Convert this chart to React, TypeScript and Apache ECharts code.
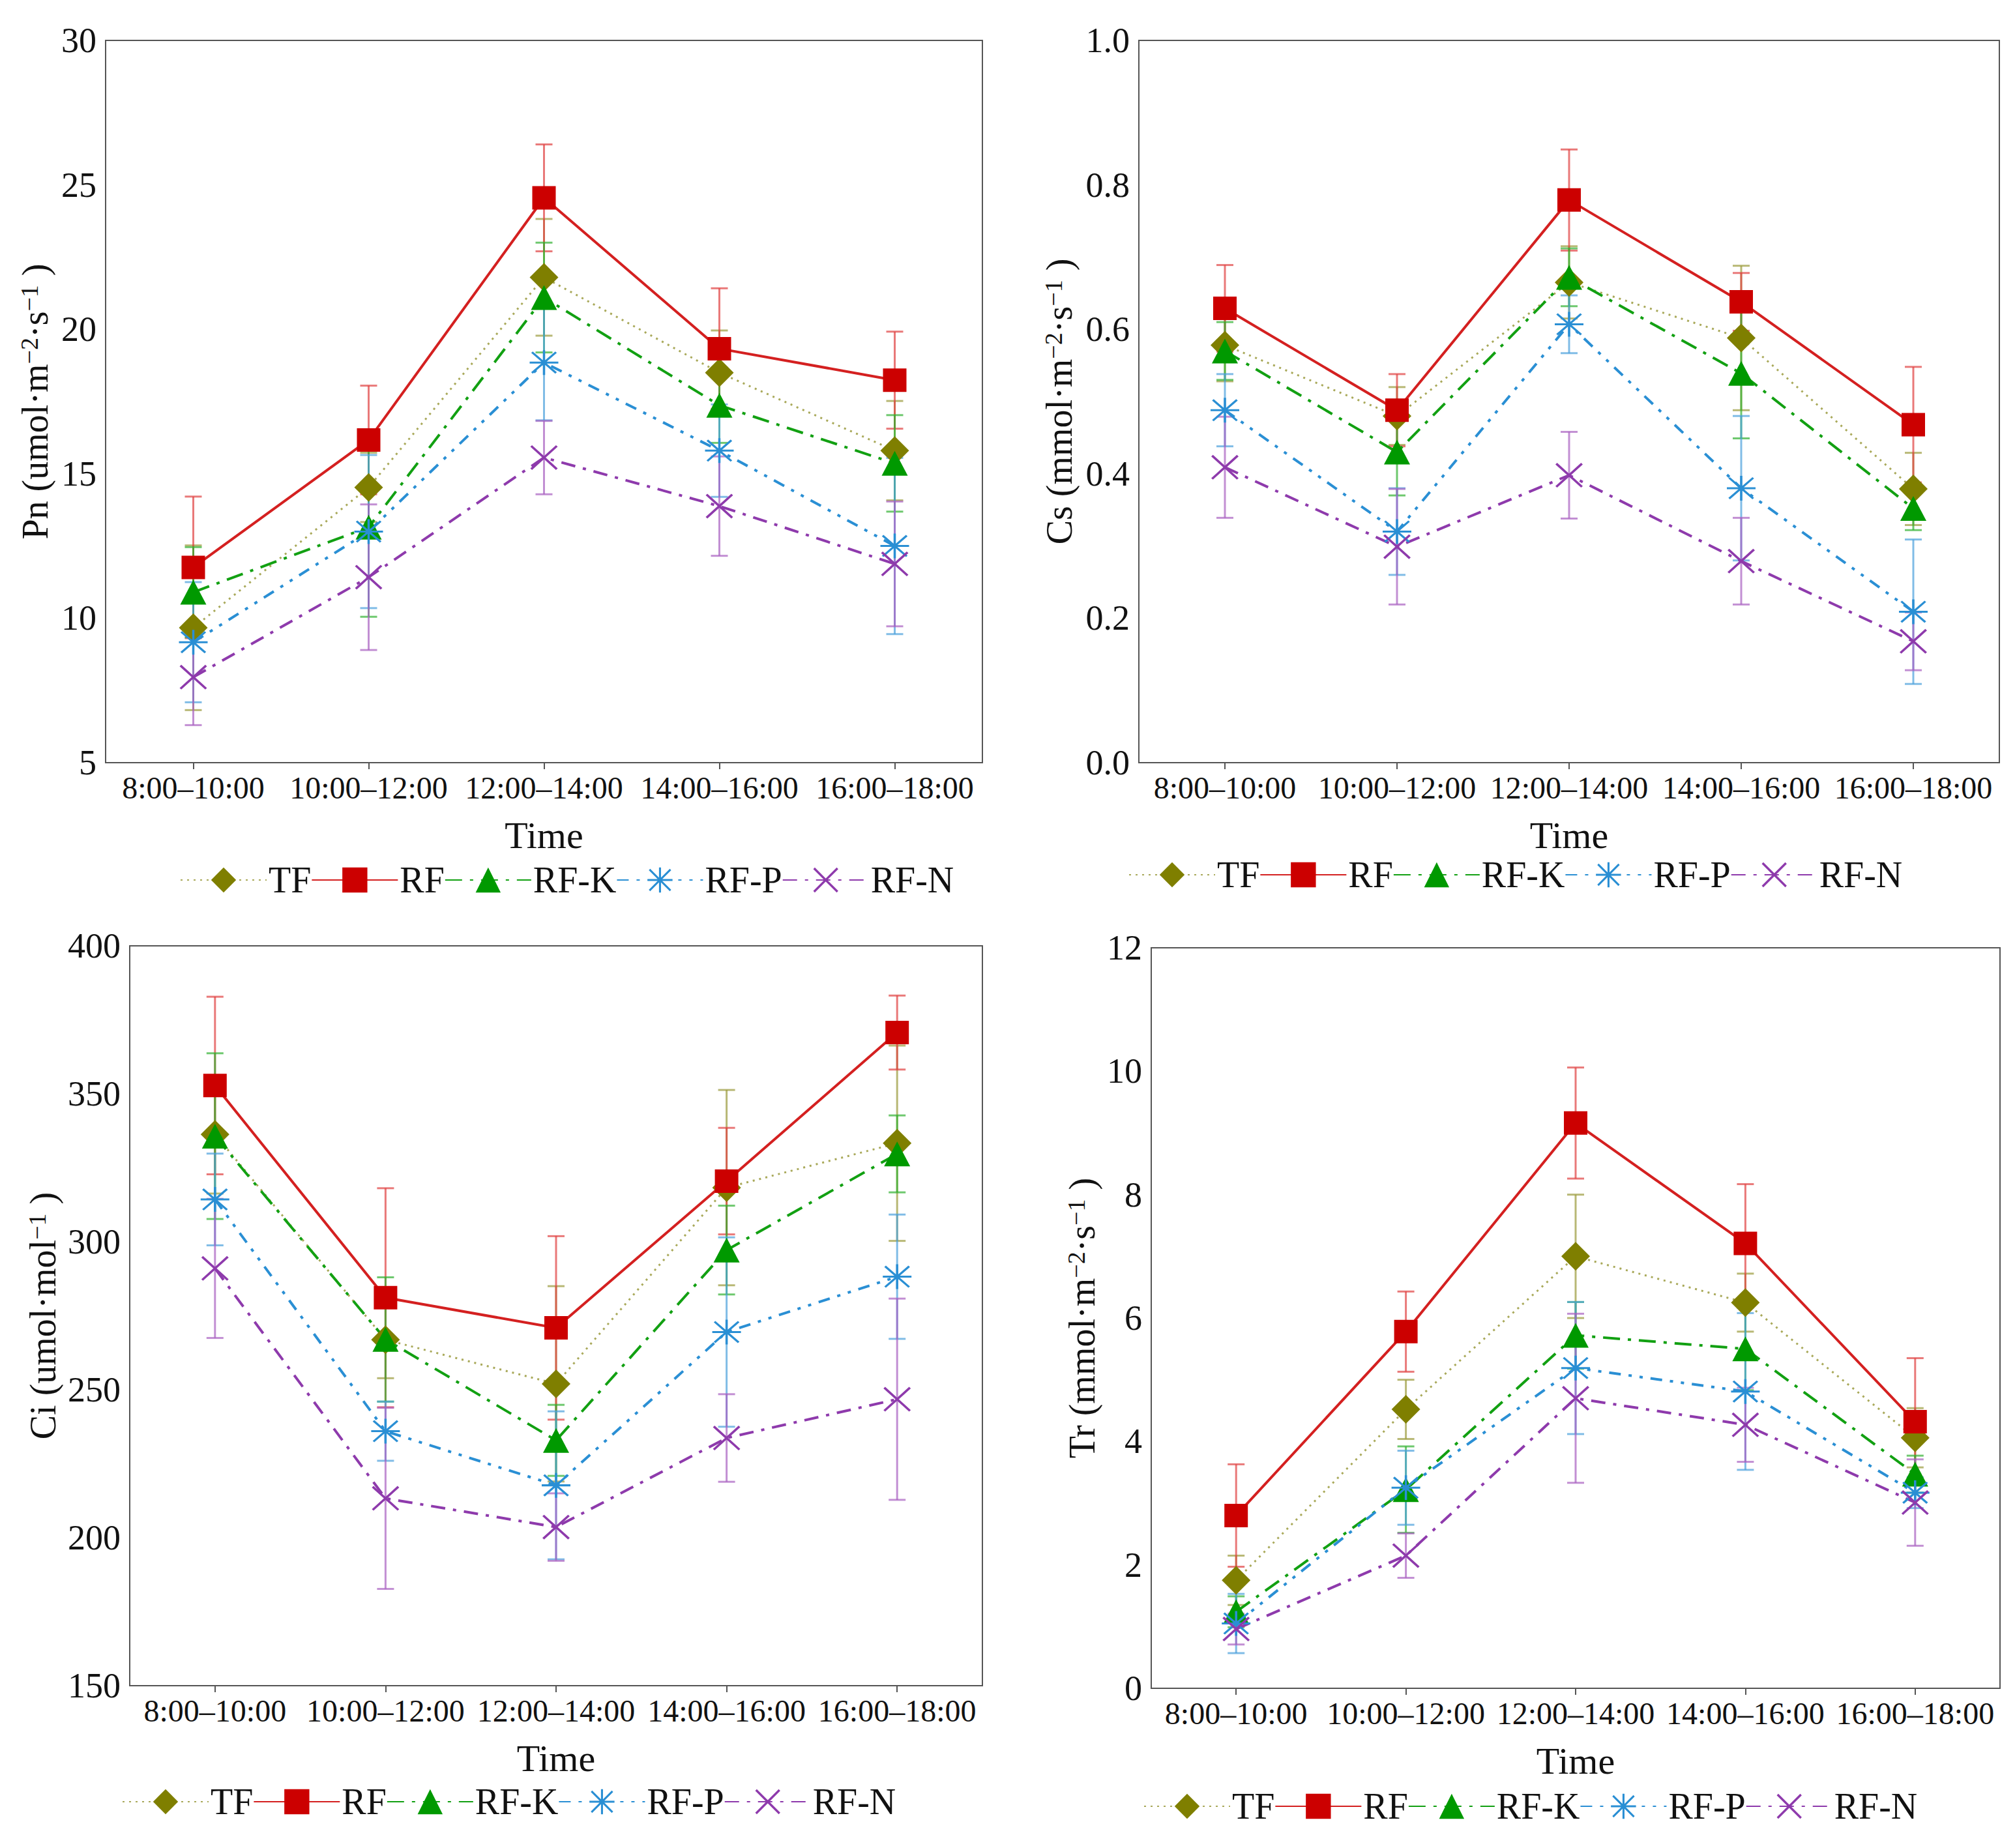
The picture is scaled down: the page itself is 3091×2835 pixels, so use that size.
import React, { useEffect, useRef } from "react";
import * as echarts from "echarts";

const categories = ["8:00–10:00", "10:00–12:00", "12:00–14:00", "14:00–16:00", "16:00–18:00"];
const seriesNames = ["TF", "RF", "RF-K", "RF-P", "RF-N"];

// Pn
const pnTF = [9.67, 14.53, 21.8, 18.5, 15.8];
const pnTFErr = [2.85, 1.2, 2.02, 1.46, 1.72];
const pnRF = [11.76, 16.17, 24.55, 19.33, 18.24];
const pnRFErr = [2.45, 1.88, 1.85, 2.09, 1.68];
const pnRFK = [10.9, 13.15, 21.1, 17.37, 15.36];
const pnRFKErr = [1.56, 3.1, 1.9, 1.3, 1.67];
const pnRFP = [9.17, 13.0, 18.85, 15.8, 12.5];
const pnRFPErr = [2.08, 2.65, 2.0, 1.6, 3.05];
const pnRFN = [7.96, 11.42, 15.56, 13.88, 11.88];
const pnRFNErr = [1.66, 2.52, 1.27, 1.72, 2.16];

// Cs
const csTF = [0.578, 0.48, 0.665, 0.588, 0.379];
const csTFErr = [0.05, 0.04, 0.05, 0.1, 0.05];
const csRF = [0.629, 0.488, 0.779, 0.638, 0.468];
const csRFErr = [0.06, 0.05, 0.07, 0.04, 0.08];
const csRFK = [0.57, 0.43, 0.672, 0.539, 0.352];
const csRFKErr = [0.04, 0.06, 0.04, 0.09, 0.03];
const csRFP = [0.488, 0.32, 0.607, 0.38, 0.209];
const csRFPErr = [0.05, 0.06, 0.04, 0.1, 0.1];
const csRFN = [0.409, 0.299, 0.398, 0.279, 0.168];
const csRFNErr = [0.07, 0.08, 0.06, 0.06, 0.04];

// Ci
const ciTF = [336.3, 266.9, 252, 318.3, 333.3];
const ciTFErr = [20, 13, 33, 33, 33];
const ciRF = [352.8, 281.1, 270.9, 320.5, 370.7];
const ciRFErr = [30, 37, 31, 18, 12.5];
const ciRFK = [335.7, 267, 232.9, 297.2, 329.7];
const ciRFKErr = [28, 21, 12, 15, 13];
const ciRFP = [314.3, 236, 217.7, 269.5, 288.2];
const ciRFPErr = [15.5, 10, 25, 32, 21];
const ciRFN = [291, 213.3, 203.6, 233.7, 246.8];
const ciRFNErr = [23.5, 30.6, 11.4, 14.8, 34];

// Tr
const trTF = [1.75, 4.52, 7.0, 6.25, 4.06];
const trTFErr = [0.4, 0.48, 1.0, 0.47, 0.48];
const trRF = [2.8, 5.78, 9.16, 7.21, 4.32];
const trRFErr = [0.83, 0.65, 0.9, 0.96, 1.03];
const trRFK = [1.24, 3.22, 5.72, 5.5, 3.47];
const trRFKErr = [0.25, 0.7, 0.54, 0.67, 0.3];
const trRFP = [1.05, 3.25, 5.19, 4.81, 3.17];
const trRFPErr = [0.48, 0.6, 1.07, 1.27, 0.25];
const trRFN = [0.96, 2.15, 4.7, 4.27, 3.01];
const trRFNErr = [0.25, 0.36, 1.37, 0.6, 0.7];

const pnTicks = { min: 5, max: 30, interval: 5 };
const csTicks = { min: 0, max: 1, interval: 0.2 };
const ciTicks = { min: 150, max: 400, interval: 50 };
const trTicks = { min: 0, max: 12, interval: 2 };

const FONT = "'Liberation Serif', 'Times New Roman', serif";

const ASTERISK =
  "path://M0 46L100 46L100 54L0 54Z M46 0L54 0L54 100L46 100Z M5.2 10.8L10.8 5.2L94.8 89.2L89.2 94.8Z M89.2 5.2L94.8 10.8L10.8 94.8L5.2 89.2Z";
const CROSS =
  "path://M5.2 10.8L10.8 5.2L94.8 89.2L89.2 94.8Z M89.2 5.2L94.8 10.8L10.8 94.8L5.2 89.2Z";

const styles = [
  { line: "#a9a95a", mark: "#7f7f00", err: "#9a9a3a", type: [3, 7], width: 3, symbol: "diamond", size: [44, 44] },
  { line: "#d42020", mark: "#cc0000", err: "#e04040", type: "solid", width: 4, symbol: "rect", size: [36, 36] },
  { line: "#12a012", mark: "#009900", err: "#30b030", type: [26, 12, 5, 12], width: 4, symbol: "triangle", size: [40, 38] },
  { line: "#2a8fd4", mark: "#2a8fd4", err: "#4aa0dc", type: [18, 12, 5, 12, 5, 12], width: 4, symbol: ASTERISK, size: [44, 38] },
  { line: "#8e3aac", mark: "#8e3aac", err: "#a860c0", type: [22, 12, 5, 12], width: 4, symbol: CROSS, size: [42, 38] },
];

const panels = [
  {
    grid: { left: 162, top: 62, width: 1345, height: 1108 },
    ticks: pnTicks,
    name: "Pn (umol·m{sup|−2}·s{sup|−1} )",
    nameGap: 80,
    decimals: 0,
    means: [pnTF, pnRF, pnRFK, pnRFP, pnRFN],
    errs: [pnTFErr, pnRFErr, pnRFKErr, pnRFPErr, pnRFNErr],
    legend: { left: 276, top: 1322 },
  },
  {
    grid: { left: 1747, top: 62, width: 1320, height: 1108 },
    ticks: csTicks,
    name: "Cs (mmol·m{sup|−2}·s{sup|−1} )",
    nameGap: 94,
    decimals: 1,
    means: [csTF, csRF, csRFK, csRFP, csRFN],
    errs: [csTFErr, csRFErr, csRFKErr, csRFPErr, csRFNErr],
    legend: { left: 1731, top: 1314 },
  },
  {
    grid: { left: 199, top: 1451, width: 1308, height: 1135 },
    ticks: ciTicks,
    name: "Ci (umol·mol{sup|−1} )",
    nameGap: 104,
    decimals: 0,
    means: [ciTF, ciRF, ciRFK, ciRFP, ciRFN],
    errs: [ciTFErr, ciRFErr, ciRFKErr, ciRFPErr, ciRFNErr],
    legend: { left: 187, top: 2736 },
  },
  {
    grid: { left: 1766, top: 1454, width: 1302, height: 1136 },
    ticks: trTicks,
    name: "Tr (mmol·m{sup|−2}·s{sup|−1} )",
    nameGap: 68,
    decimals: 0,
    means: [trTF, trRF, trRFK, trRFP, trRFN],
    errs: [trTFErr, trRFErr, trRFKErr, trRFPErr, trRFNErr],
    legend: { left: 1754, top: 2743 },
  },
];

function buildOption() {
  const grids: any[] = [];
  const xAxes: any[] = [];
  const yAxes: any[] = [];
  const series: any[] = [];
  const legends: any[] = [];

  panels.forEach((p, pi) => {
    grids.push({ ...p.grid, show: true, borderColor: "#555", borderWidth: 2, backgroundColor: "transparent" });
    xAxes.push({
      type: "category",
      gridIndex: pi,
      data: categories,
      boundaryGap: true,
      name: "Time",
      nameLocation: "middle",
      nameGap: 82,
      nameTextStyle: { fontFamily: FONT, fontSize: 58, color: "#111" },
      axisLine: { lineStyle: { color: "#555", width: 2 } },
      axisTick: { show: true, alignWithLabel: true, length: 10, lineStyle: { color: "#555", width: 2 } },
      axisLabel: { fontFamily: FONT, fontSize: 48, color: "#111", margin: 14, interval: 0 },
      splitLine: { show: false },
    });
    yAxes.push({
      type: "value",
      gridIndex: pi,
      min: p.ticks.min,
      max: p.ticks.max,
      interval: p.ticks.interval,
      name: p.name,
      nameLocation: "middle",
      nameGap: p.nameGap,
      nameRotate: 90,
      nameTextStyle: {
        fontFamily: FONT,
        fontSize: 56,
        color: "#111",
        rich: {
          sup: { fontFamily: FONT, fontSize: 38, color: "#111", verticalAlign: "top", lineHeight: 34, padding: [0, 0, 24, 0] },
        },
      },
      axisLine: { show: true, lineStyle: { color: "#555", width: 2 } },
      axisTick: { show: false },
      axisLabel: {
        fontFamily: FONT,
        fontSize: 54,
        color: "#111",
        margin: 14,
        formatter: (v: number) => v.toFixed(p.decimals),
      },
      splitLine: { show: false },
    });

    p.means.forEach((m, si) => {
      const st = styles[si];
      const errData = m.map((v, i) => [i, v, p.errs[si][i]]);
      series.push({
        type: "custom",
        name: seriesNames[si] + "-err-" + pi,
        xAxisIndex: pi,
        yAxisIndex: pi,
        z: 1,
        silent: true,
        encode: { x: 0, y: 1 },
        data: errData,
        renderItem: (params: any, api: any) => {
          const x = api.value(0);
          const y = api.value(1);
          const e = api.value(2);
          const top = api.coord([x, y + e]);
          const bot = api.coord([x, y - e]);
          const cw = 13;
          const s = { stroke: st.err, lineWidth: 3, opacity: 0.7 };
          return {
            type: "group",
            children: [
              { type: "line", shape: { x1: top[0], y1: top[1], x2: bot[0], y2: bot[1] }, style: s },
              { type: "line", shape: { x1: top[0] - cw, y1: top[1], x2: top[0] + cw, y2: top[1] }, style: s },
              { type: "line", shape: { x1: bot[0] - cw, y1: bot[1], x2: bot[0] + cw, y2: bot[1] }, style: s },
            ],
          };
        },
      });
      series.push({
        type: "line",
        name: seriesNames[si],
        xAxisIndex: pi,
        yAxisIndex: pi,
        z: 3,
        data: m,
        symbol: st.symbol,
        symbolSize: st.size,
        showAllSymbol: true,
        lineStyle: { color: st.line, width: st.width, type: st.type },
        itemStyle: { color: st.mark, opacity: 1 },
        emphasis: { disabled: true },
      });
    });

    legends.push({
      data: seriesNames,
      left: p.legend.left,
      top: p.legend.top,
      orient: "horizontal",
      itemWidth: 132,
      itemHeight: 48,
      itemGap: 0,
      selectedMode: false,
      textStyle: { fontFamily: FONT, fontSize: 56, color: "#111", padding: [0, 0, 0, -2] },
      padding: 0,
    });
  });

  return {
    animation: false,
    backgroundColor: "#ffffff",
    grid: grids,
    xAxis: xAxes,
    yAxis: yAxes,
    legend: legends,
    series,
  };
}

export default function App() {
  const ref = useRef<HTMLDivElement>(null);
  useEffect(() => {
    document.body.style.margin = "0";
    if (!ref.current) return;
    const chart = echarts.init(ref.current, undefined, { renderer: "svg" });
    chart.setOption(buildOption() as any);
    return () => chart.dispose();
  }, []);
  return <div ref={ref} style={{ width: 3091, height: 2835, background: "#fff" }} />;
}
